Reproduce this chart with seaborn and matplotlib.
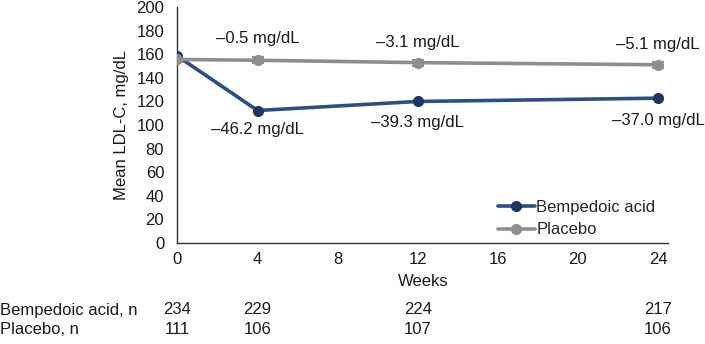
import matplotlib
matplotlib.use("Agg")
import matplotlib.pyplot as plt
import seaborn as sns
import pandas as pd

weeks = [0, 4, 12, 24]
bempedoic = [158.5, 112.3, 120.0, 122.8]
placebo = [155.7, 155.0, 153.0, 151.2]
placebo_err = [2.5, 2.5, 2.5, 2.5]
bemp_labels = ["\u201346.2 mg/dL", "\u201339.3 mg/dL", "\u201337.0 mg/dL"]
plac_labels = ["\u20130.5 mg/dL", "\u20133.1 mg/dL", "\u20135.1 mg/dL"]
bemp_label_y = [95.8, 101.7, 104.2]
plac_label_y = [173.9, 170.5, 168.8]
bemp_n = [234, 229, 224, 217]
plac_n = [111, 106, 107, 106]
xticks = [0, 4, 8, 12, 16, 20, 24]
yticks = list(range(0, 201, 20))

sns.set_theme(style="white")
plt.rcParams["font.family"] = ["Liberation Sans", "DejaVu Sans"]
FS = 12

navy = "#2F4D7E"
navy_m = "#1C3563"
gray = "#8E8E8E"
txt = "#1a1a1a"

df = pd.DataFrame({
    "Weeks": weeks * 2,
    "LDL": bempedoic + placebo,
    "Group": ["Bempedoic acid"] * 4 + ["Placebo"] * 4,
})

fig = plt.figure(figsize=(7.05, 3.44), dpi=100)
ax = fig.add_axes([177.5 / 705, 1 - 242.7 / 344, (668 - 177.5) / 705, (242.7 - 7.3) / 344])

ax.errorbar(weeks, placebo, yerr=placebo_err, fmt="none", ecolor=gray, capsize=4,
            elinewidth=1.5, capthick=1.5, zorder=2)
sns.lineplot(data=df, x="Weeks", y="LDL", hue="Group", palette=[navy, gray],
             marker="o", markersize=8, linewidth=2.6, markeredgewidth=0,
             ax=ax, zorder=3)
for line in ax.lines:
    if line.get_color() == navy:
        line.set_markerfacecolor(navy_m)

ax.set_xlim(0, 24.5)
ax.set_ylim(0, 200)
ax.set_xticks(xticks)
ax.set_yticks(yticks)
ax.tick_params(axis="x", direction="in", length=4, width=1, labelsize=FS, pad=6.5, colors=txt)
ax.tick_params(axis="y", direction="out", length=3.6, width=1, labelsize=FS, pad=6, colors=txt)
for s in ["top", "right"]:
    ax.spines[s].set_visible(False)
for s in ["left", "bottom"]:
    ax.spines[s].set_color("#333333")
    ax.spines[s].set_linewidth(1.0)

ax.set_xlabel("Weeks", fontsize=FS, labelpad=5, color=txt)
ax.set_ylabel("Mean LDL-C, mg/dL", fontsize=FS, labelpad=5, color=txt)

for x, y, t in zip(weeks[1:], bemp_label_y, bemp_labels):
    ax.text(x, y, t, ha="center", va="center", fontsize=FS, color=txt)
for x, y, t in zip(weeks[1:], plac_label_y, plac_labels):
    ax.text(x, y, t, ha="center", va="center", fontsize=FS, color=txt)

leg = ax.legend(loc="lower right", bbox_to_anchor=(0.995, -0.02), frameon=False,
                fontsize=FS, handlelength=2.2, handletextpad=0.1, labelspacing=0.45,
                borderaxespad=0.2)
for h in leg.legend_handles:
    h.set_markersize(8)

row1_y = 1 - 310 / 344
row2_y = 1 - 330 / 344
fig.text(0.0, row1_y, "Bempedoic acid, n", ha="left", va="center", fontsize=FS, color=txt)
fig.text(0.0, row2_y, "Placebo, n", ha="left", va="center", fontsize=FS, color=txt)
for x, n1, n2 in zip(weeks, bemp_n, plac_n):
    xf = fig.transFigure.inverted().transform(ax.transData.transform((x, 0)))[0]
    fig.text(xf, row1_y, str(n1), ha="center", va="center", fontsize=FS, color=txt)
    fig.text(xf, row2_y, str(n2), ha="center", va="center", fontsize=FS, color=txt)

fig.savefig("out.png", dpi=100)
